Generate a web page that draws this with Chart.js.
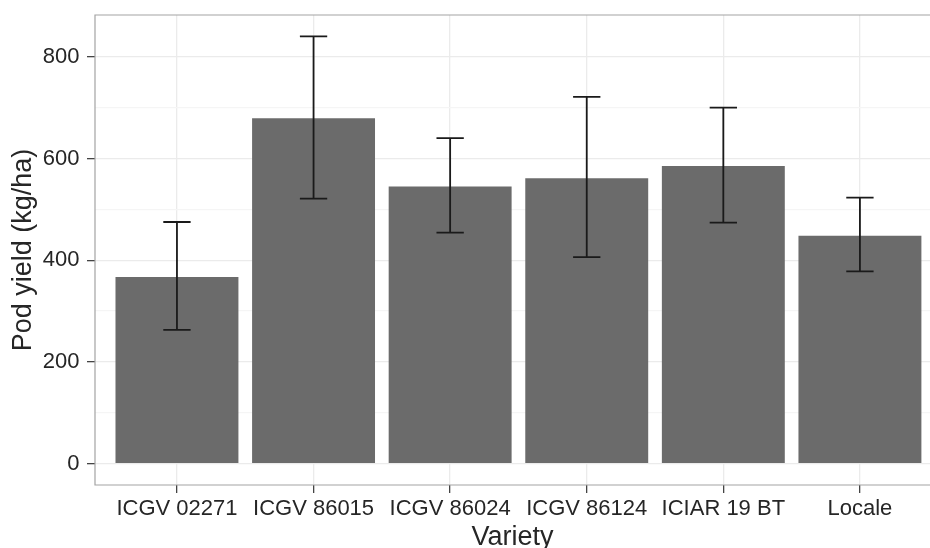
<!DOCTYPE html>
<html>
<head>
<meta charset="utf-8">
<title>Pod yield by variety</title>
<script src="https://cdn.jsdelivr.net/npm/chart.js@4.4.1/dist/chart.umd.min.js"></script>
<style>
    html, body { margin: 0; padding: 0; background: #fff; overflow: hidden; }
    canvas { display: block; }
</style>
</head>
<body>
<canvas id="yieldChart" width="930" height="548"></canvas>
<script>
    const varieties = ['ICGV 02271', 'ICGV 86015', 'ICGV 86024', 'ICGV 86124', 'ICIAR 19 BT', 'Locale'];
    const podYield = [367, 679, 545, 561, 585, 448];
    const yieldLow = [263, 521, 454, 406, 474, 378];
    const yieldHigh = [475, 840, 640, 721, 700, 523];
    const yMajorTicks = [0, 200, 400, 600, 800];
    const yMinorTicks = [100, 300, 500, 700];

    const FONT = '"Liberation Sans", Arial, Helvetica, sans-serif';

    // y range padded 5% like ggplot does
    const yTop = Math.max(...yieldHigh);
    const yMin = -0.05 * yTop;
    const yMax = yTop * 1.05;

    // grey frame around the plotting area (right side runs off the canvas)
    const panelBorder = {
        id: 'panelBorder',
        beforeDatasetsDraw(chart) {
            const { ctx, chartArea: a } = chart;
            ctx.save();
            ctx.strokeStyle = '#a3a3a3';
            ctx.lineWidth = 1.2;
            ctx.beginPath();
            ctx.moveTo(a.right + 2, a.top);
            ctx.lineTo(a.left, a.top);
            ctx.lineTo(a.left, a.bottom);
            ctx.lineTo(a.right + 2, a.bottom);
            ctx.stroke();
            ctx.restore();
        }
    };

    // whiskers with caps from yieldLow to yieldHigh
    const errorBars = {
        id: 'errorBars',
        afterDatasetsDraw(chart) {
            const { ctx, scales: { x, y } } = chart;
            ctx.save();
            ctx.strokeStyle = '#1a1a1a';
            ctx.lineWidth = 1.8;
            varieties.forEach((v, i) => {
                const cx = x.getPixelForValue(i + 1);
                const half = x.getPixelForValue(i + 1.1) - cx;
                const top = y.getPixelForValue(yieldHigh[i]);
                const bot = y.getPixelForValue(yieldLow[i]);
                ctx.beginPath();
                ctx.moveTo(cx, top);
                ctx.lineTo(cx, bot);
                ctx.moveTo(cx - half, top);
                ctx.lineTo(cx + half, top);
                ctx.moveTo(cx - half, bot);
                ctx.lineTo(cx + half, bot);
                ctx.stroke();
            });
            ctx.restore();
        }
    };

    const ctx = document.getElementById('yieldChart').getContext('2d');
    const yieldChart = new Chart(ctx, {
        type: 'bar',
        data: {
            datasets: [{
                label: 'Pod yield',
                data: varieties.map((v, i) => ({ x: i + 1, y: podYield[i] })),
                backgroundColor: '#6b6b6b',
                borderWidth: 0,
                barPercentage: 0.9,
                categoryPercentage: 1.0
            }]
        },
        options: {
            responsive: false,
            animation: false,
            layout: { padding: { left: 0, top: 15, right: 0, bottom: 0 } },
            plugins: {
                legend: { display: false },
                tooltip: { enabled: false }
            },
            scales: {
                x: {
                    type: 'linear',
                    min: 0.4,
                    max: 6.513,
                    offset: false,
                    afterBuildTicks: scale => {
                        scale.ticks = varieties.map((v, i) => ({ value: i + 1 }));
                    },
                    afterFit: scale => {
                        scale.height = 63;
                        scale.paddingLeft = 0;
                        scale.paddingRight = 0;
                    },
                    border: { display: false },
                    grid: {
                        offset: false,
                        color: '#ebebeb',
                        lineWidth: 1.3,
                        tickColor: '#444',
                        tickLength: 8,
                        tickWidth: 1.3
                    },
                    ticks: {
                        padding: 2.5,
                        maxRotation: 0,
                        autoSkip: false,
                        color: '#262626',
                        font: { family: FONT, size: 22 },
                        callback: value => varieties[value - 1]
                    },
                    title: {
                        display: true,
                        text: 'Variety',
                        color: '#262626',
                        font: { family: FONT, size: 27, lineHeight: 0.8 },
                        padding: { top: 0.6, bottom: 0 }
                    }
                },
                y: {
                    min: yMin,
                    max: yMax,
                    afterBuildTicks: scale => {
                        scale.ticks = yMajorTicks.concat(yMinorTicks)
                            .sort((a, b) => a - b)
                            .map(v => ({ value: v }));
                    },
                    afterFit: scale => {
                        scale.width = 95;
                        scale.paddingTop = 0;
                        scale.paddingBottom = 0;
                    },
                    border: { display: false },
                    grid: {
                        color: c => (c.tick && yMinorTicks.includes(c.tick.value)) ? '#f5f5f5' : '#ebebeb',
                        lineWidth: 1.3,
                        tickColor: c => (c.tick && yMinorTicks.includes(c.tick.value)) ? 'rgba(0,0,0,0)' : '#444',
                        tickLength: 8,
                        tickWidth: 1.3
                    },
                    ticks: {
                        padding: 7.5,
                        color: '#262626',
                        font: { family: FONT, size: 22 },
                        callback: value => yMajorTicks.includes(value) ? value : ''
                    },
                    title: {
                        display: true,
                        text: 'Pod yield (kg/ha)',
                        color: '#262626',
                        font: { family: FONT, size: 27 },
                        padding: { top: 7.7, bottom: 0 }
                    }
                }
            }
        },
        plugins: [panelBorder, errorBars]
    });
</script>
</body>
</html>
